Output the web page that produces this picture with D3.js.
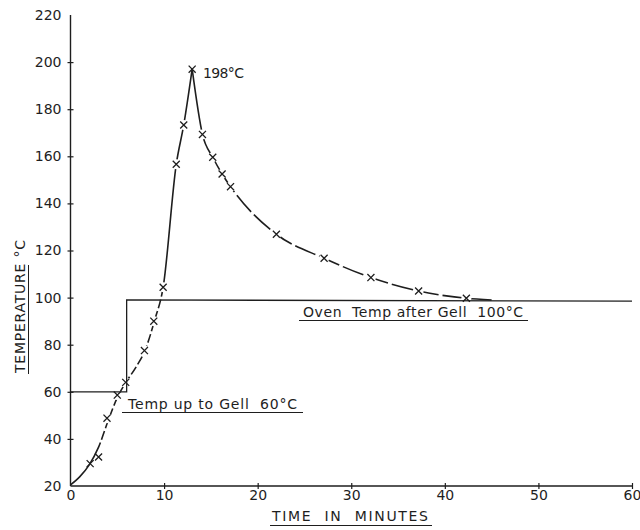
<!DOCTYPE html>
<html><head><meta charset="utf-8">
<script src="https://cdn.jsdelivr.net/npm/d3@7"></script>
<style>
html,body{margin:0;padding:0;background:#fff;}
svg{display:block;}
text{font-family:"DejaVu Sans",sans-serif;fill:#1e1e1e;}
text.pre{white-space:pre;}
</style></head>
<body>
<script>
// ---- data ----
const xTicks = [0, 10, 20, 30, 40, 50, 60];
const yTicks = [20, 40, 60, 80, 100, 120, 140, 160, 180, 200, 220];

// measured points (crosses)
const markTime = [2.1, 3.0, 3.9, 5.0, 5.9, 7.9, 8.9, 9.9, 11.3, 12.1, 13.0, 14.1, 15.2, 16.2, 17.1, 22.0, 27.1, 32.1, 37.2, 42.3];
const markTemp = [29.5, 32.3, 48.8, 58.6, 64.0, 77.5, 90.0, 104.4, 156.6, 173.3, 197.0, 169.3, 159.6, 152.5, 147.1, 126.9, 116.7, 108.5, 102.8, 99.7];

// the hand-drawn curve through them (nodes)
const riseTime = [0, 1.0, 2.0, 3.0, 4.0, 5.0, 6.0, 7.0, 8.0, 9.0, 9.9, 11.3, 12.1, 13.0];
const riseTemp = [20.5, 24.0, 29.0, 36.5, 47.5, 57.5, 64.5, 70.5, 78.0, 90.5, 104.4, 156.6, 173.3, 197.0];
const fallTime = [13.0, 14.1, 15.2, 16.2, 17.1, 22.0, 27.1, 32.1, 37.2, 42.3, 45.0];
const fallTemp = [197.0, 169.3, 159.6, 152.5, 147.1, 126.9, 116.7, 108.5, 102.8, 99.7, 99.0];

// oven set-point profile
const stepTime = [0, 6, 6, 60];
const stepTemp = [60, 60, 99, 98.5];

const W = 640, H = 530;
const svg = d3.select("body").append("svg").attr("width", W).attr("height", H);

const x = d3.scaleLinear().domain([0, 60]).range([70.5, 632]);
const y = d3.scaleLinear().domain([20, 220]).range([486, 15]);
const ink = "#1e1e1e";

// axes
const xAxis = d3.axisBottom(x).tickValues(xTicks).tickSize(0).tickPadding(4);
const yAxis = d3.axisLeft(y).tickValues(yTicks).tickSize(0).tickPadding(9);

const gx = svg.append("g").attr("transform", `translate(0,${y(20)})`).call(xAxis);
const gy = svg.append("g").attr("transform", `translate(${x(0)},0)`).call(yAxis);
[gx, gy].forEach(g => {
  g.select(".domain").attr("stroke", ink).attr("stroke-width", 1.4);
  g.selectAll("text").attr("font-size", 14).attr("fill", ink).style("font-family", '"DejaVu Sans",sans-serif');
});
gx.select(".domain").attr("d", `M${x(0)},0H${x(60)}`);
gy.select(".domain").attr("d", `M0,${y(20)}V${y(220)}`);
// little cross ticks
gx.selectAll(".tick").filter(d => d > 0).append("line").attr("y1", -3).attr("y2", 3).attr("stroke", ink).attr("stroke-width", 1.2);
gy.selectAll(".tick").filter(d => d > 20 && d < 220).append("line").attr("x1", -3).attr("x2", 3).attr("stroke", ink).attr("stroke-width", 1.2);

// step (oven) line
const stepLine = d3.line().x((d, i) => x(stepTime[i])).y((d, i) => y(stepTemp[i]));
svg.append("path").attr("d", stepLine(stepTime)).attr("fill", "none").attr("stroke", ink).attr("stroke-width", 1.3);

const lineGen = d3.line().x(d => x(d[0])).y(d => y(d[1])).curve(d3.curveMonotoneX);
const rise = riseTime.map((t, i) => [t, riseTemp[i]]);
const fall = fallTime.map((t, i) => [t, fallTemp[i]]);

// mask: small gaps in the hand-drawn curve at each cross
const defs = svg.append("defs");
const mask = defs.append("mask").attr("id", "gaps").attr("maskUnits", "userSpaceOnUse")
  .attr("x", 0).attr("y", 0).attr("width", W).attr("height", H);
mask.append("rect").attr("width", W).attr("height", H).attr("fill", "#fff");
mask.selectAll("circle").data(markTime.map((t, i) => [t, markTemp[i]]).filter(d => d[0] > 3 && d[0] !== 13.0)).join("circle")
  .attr("cx", d => x(d[0])).attr("cy", d => y(d[1])).attr("r", 5).attr("fill", "#000");

const curveG = svg.append("g").attr("mask", "url(#gaps)");
const risePath = curveG.append("path").attr("d", lineGen(rise)).attr("fill", "none").attr("stroke", ink).attr("stroke-width", 1.6);
const fallPath = curveG.append("path").attr("d", lineGen(fall)).attr("fill", "none").attr("stroke", ink).attr("stroke-width", 1.6);

// dashed stretches, like the pen work in the original
function lengthAtX(node, px) {
  let lo = 0, hi = node.getTotalLength();
  for (let k = 0; k < 40; k++) {
    const mid = (lo + hi) / 2;
    if (node.getPointAtLength(mid).x < px) lo = mid; else hi = mid;
  }
  return lo;
}
function dashes(sel, t0, t1, dash, gap) {
  const node = sel.node();
  const total = node.getTotalLength();
  const a = lengthAtX(node, x(t0)), b = lengthAtX(node, x(t1));
  const arr = [a];
  let pos = a;
  while (pos + gap + dash < b) { arr.push(gap, dash); pos += gap + dash; }
  arr.push(gap, total + 10, 0);
  if (arr.length % 2 === 1) arr.push(0);
  sel.attr("stroke-dasharray", arr.join(","));
}
dashes(risePath, 3.2, 9.9, 9, 3);
dashes(fallPath, 17.5, 42, 22, 4);

// crosses
const sym = d3.symbol().type(d3.symbolTimes).size(34);
svg.selectAll("path.mark").data(markTime).join("path").attr("class", "mark")
  .attr("transform", (t, i) => `translate(${x(t)},${y(markTemp[i])})`)
  .attr("d", sym).attr("fill", "none").attr("stroke", ink).attr("stroke-width", 1.3);

// annotations
svg.append("text").attr("x", 203).attr("y", 78).attr("font-size", 14).attr("textLength", 41).text("198°C");

svg.append("text").attr("class", "pre").attr("x", 128).attr("y", 409).attr("font-size", 14).attr("textLength", 169)
  .attr("lengthAdjust", "spacing").text("Temp up to Gell  60°C");
svg.append("line").attr("x1", 122).attr("x2", 303).attr("y1", 412.5).attr("y2", 412.5).attr("stroke", ink).attr("stroke-width", 1);

svg.append("text").attr("class", "pre").attr("x", 303).attr("y", 317).attr("font-size", 14).attr("textLength", 220)
  .attr("lengthAdjust", "spacing").text("Oven  Temp after Gell  100°C");
svg.append("line").attr("x1", 299).attr("x2", 528).attr("y1", 320.5).attr("y2", 320.5).attr("stroke", ink).attr("stroke-width", 1);

// axis titles
svg.append("text").attr("class", "pre").attr("x", 272).attr("y", 521).attr("font-size", 14).attr("textLength", 156)
  .attr("lengthAdjust", "spacing").text("TIME  IN  MINUTES");
svg.append("line").attr("x1", 270).attr("x2", 432).attr("y1", 525.5).attr("y2", 525.5).attr("stroke", ink).attr("stroke-width", 1);

svg.append("text").attr("transform", "translate(25,373) rotate(-90)").attr("font-size", 14)
  .attr("textLength", 133).attr("lengthAdjust", "spacing").text("TEMPERATURE °C");
svg.append("line").attr("x1", 28.5).attr("x2", 28.5).attr("y1", 265).attr("y2", 374).attr("stroke", ink).attr("stroke-width", 1);
</script>
</body></html>
